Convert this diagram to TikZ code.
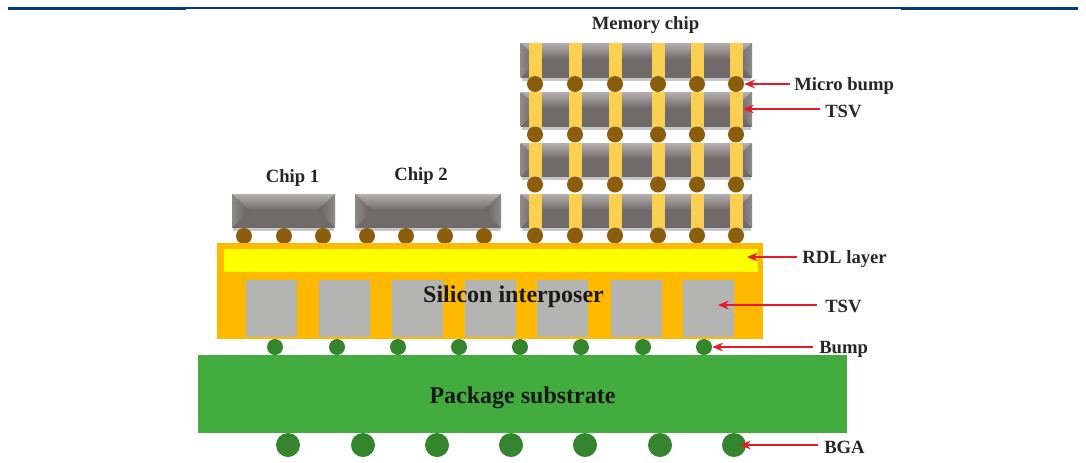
\documentclass[tikz,border=0pt]{standalone}
\usepackage{fontspec}
\setmainfont{Liberation Serif}
\usetikzlibrary{arrows.meta}
\definecolor{navy}{HTML}{003C78}
\definecolor{chipbody}{HTML}{716A6A}
\definecolor{chiptop}{HTML}{B5B0B0}
\definecolor{chipside}{HTML}{8F8A8A}
\definecolor{tsvgold}{HTML}{FBCF50}
\definecolor{ubump}{HTML}{8A5E0C}
\definecolor{interp}{HTML}{FFB900}
\definecolor{rdl}{HTML}{FFFF00}
\definecolor{tsvgrey}{HTML}{B4B4B2}
\definecolor{subst}{HTML}{43AC3F}
\definecolor{bumpg}{HTML}{35852F}
\definecolor{arrowred}{HTML}{E8192C}
\tikzset{
  x=0.75pt,y=-0.75pt,
  lbl/.style={font=\bfseries\fontsize{14pt}{16pt}\selectfont,text=black!85,inner sep=0pt},
  biglbl/.style={font=\bfseries\fontsize{18pt}{20pt}\selectfont,text=black!90,inner sep=0pt},
  callout/.style={draw=arrowred,line width=1.6pt,-{Stealth[length=8pt,width=6.5pt]}},
  microbump/.style={circle,fill=ubump,minimum size=12pt,inner sep=0pt},
  smallbump/.style={circle,fill=bumpg,minimum size=12pt,inner sep=0pt},
  bga/.style={circle,fill=bumpg,minimum size=18pt,inner sep=0pt},
}
% chip: left, top, right, bottom
\newcommand{\chipbox}[4]{%
  \fill[black!22] (#1+1,#4) rectangle (#3-1,#4+3);
  \fill[chipbody] (#1,#2) rectangle (#3,#4);
  \shade[top color=chiptop,bottom color=chipbody]
    (#1,#2) -- (#3,#2) -- (#3-17,#2+16) -- (#1+17,#2+16) -- cycle;
  \shade[left color=chipside,right color=chipbody!90!black]
    (#1,#2) -- (#1+17,#2+16) -- (#1,#4) -- cycle;
  \shade[right color=chipside,left color=chipbody!90!black]
    (#3,#2) -- (#3-17,#2+16) -- (#3,#4) -- cycle;
}
\begin{document}
\begin{tikzpicture}
\useasboundingbox (0,0) rectangle (1086,462);
\fill[white] (0,0) rectangle (1086,462);
% header rule
\fill[navy] (8,7) rectangle (186,10);
\fill[navy] (186,7) rectangle (901,9);
\fill[navy] (901,7) rectangle (1078,10);

% memory stack
\foreach \t/\b in {43/78,92/127,143/177,194/228}{\chipbox{520.5}{\t}{752}{\b}}
\foreach \x in {535,575,615,658,697,736}{
  \fill[tsvgold] (\x-6.5,43) rectangle (\x+6.5,78);
  \fill[tsvgold] (\x-6.5,92) rectangle (\x+6.5,127);
  \fill[tsvgold] (\x-6.5,143) rectangle (\x+6.5,177);
  \fill[tsvgold] (\x-6.5,194) rectangle (\x+6.5,228);
  \node[microbump] at (\x,134.5) {};
  \node[microbump] at (\x,184.5) {};
  \node[microbump] at (\x,235.5) {};
}
\foreach \x in {535,575,615,658,697}{\node[microbump] at (\x,84) {};}
\node[microbump] (mb) at (736,84) {};
\coordinate (memtsv) at (743,109);

% chips 1 and 2
\chipbox{232}{194}{335}{228}
\chipbox{355}{194}{501}{228}
\foreach \x in {244,284,323,367,406,445,484}{\node[microbump] at (\x,236) {};}

% interposer
\node[fill=interp,minimum width=409.5pt,minimum height=72pt,inner sep=0pt] (interposer) at (490,291) {};
\node[fill=rdl,minimum width=400.5pt,minimum height=17.25pt,inner sep=0pt] (rdllayer) at (491,260.5) {};
\foreach \x/\n in {246/a,319/b,392/c,465/d,537/e,611/f}{
  \node[fill=tsvgrey,minimum width=38.25pt,minimum height=42.75pt,inner sep=0pt,anchor=north west] (g\n) at (\x,280) {};
}
\node[fill=tsvgrey,minimum width=38.25pt,minimum height=42.75pt,inner sep=0pt,anchor=north west] (gg) at (683,280) {};
\coordinate (rdltip) at (747,257);
\coordinate (intsv) at (718,305);
\node[biglbl] (silicon) at (513.5,297) {Silicon interposer};

% bumps
\foreach \x in {275,337,398,459,520,581,643}{\node[smallbump] at (\x,347) {};}
\node[smallbump] (bp) at (704,347) {};

% substrate
\node[fill=subst,minimum width=486.4pt,minimum height=58.5pt,inner sep=0pt] (substrate) at (522.75,394) {};
\node[biglbl] (pkg) at (522.5,397.5) {Package substrate};

% BGA
\foreach \x in {288,363,437,511,585,660}{\node[bga] at (\x,445) {};}
\node[bga] (ball) at (734,445) {};
\coordinate (balltip) at (740,445);

% labels
\node[lbl] at (645.5,25) {Memory chip};
\node[lbl] at (292.5,178) {Chip 1};
\node[lbl] at (421,176) {Chip 2};
\node[lbl,anchor=west] (lmb) at (794,86) {Micro bump};
\node[lbl,anchor=west] (ltsv1) at (825,111) {TSV};
\node[lbl,anchor=west] (lrdl) at (802,259) {RDL layer};
\node[lbl,anchor=west] (ltsv2) at (825,306) {TSV};
\node[lbl,anchor=west] (lbump) at (819,349) {Bump};
\node[lbl,anchor=west] (lbga) at (824,447) {BGA};

% callouts
\draw[callout] (lmb.west |- mb) ++(-4,0) -- (mb.east);
\draw[callout] (ltsv1.west |- memtsv) ++(-5,0) -- (memtsv);
\draw[callout] (lrdl.west |- rdltip) ++(-5,0) -- (rdltip);
\draw[callout] (ltsv2.west |- intsv) ++(-8,0) -- (intsv);
\draw[callout] (lbump.west |- bp) ++(-6,0) -- (bp.east);
\draw[callout] (lbga.west |- balltip) ++(-6,0) -- (balltip);
\end{tikzpicture}
\end{document}
